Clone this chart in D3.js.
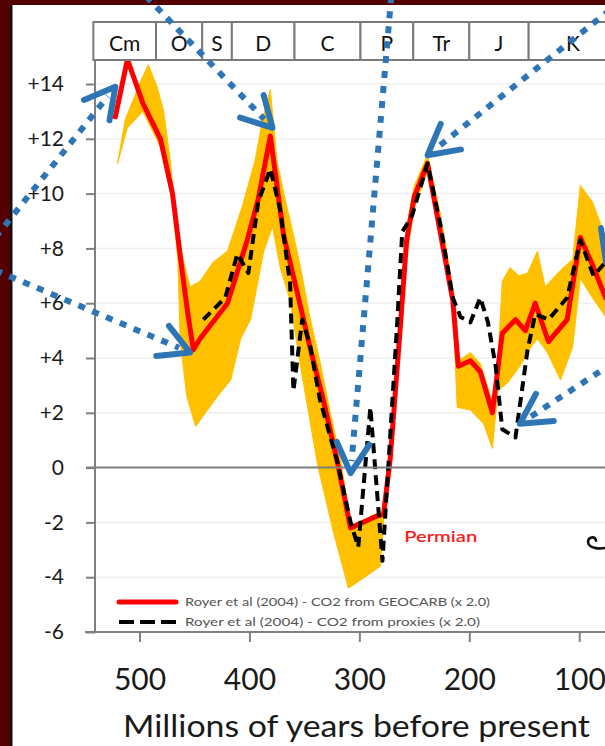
<!DOCTYPE html>
<html><head><meta charset="utf-8">
<script src="https://cdn.jsdelivr.net/npm/d3@7"></script>
<style>html,body{margin:0;padding:0;background:#550000;} svg{display:block;}</style>
</head><body>
<svg id="chart" width="605" height="746"></svg>
<script>
// ---------------- data (ages in Ma, values in CO2 forcing units) ----------------
const redAge = [522,511,497,481,470,461,456,451,445,420,402,392,381,369,356,345,333,320,308,286,278,272,263,257,250,238,226,215,210,199,190,179,170,158,149,140,128,111,99,88,76];
const redCO2 = [12.8,14.9,13.3,12.0,10.0,7.1,5.6,4.3,4.7,6.0,8.3,9.8,12.1,8.5,6.3,4.4,2.5,0.2,-2.2,-1.8,-1.7,0.3,5.0,8.3,9.9,11.1,8.5,6.1,3.7,3.9,3.5,2.0,4.9,5.4,5.0,6.0,4.6,5.4,8.4,7.4,6.2];

const proxyAge = [442,422,411,401,392,381,372,363,360,352,345,336,320,308,301,290,279,266,261,252,238,226,215,208,199,190,183,176,170,158,147,140,128,111,99,87,76];
const proxyCO2 = [5.4,6.2,7.8,7.1,9.7,10.9,9.4,6.7,2.8,5.4,4.5,2.5,0.2,-2.0,-2.9,2.2,-3.4,5.0,8.6,9.2,11.1,8.8,6.2,5.5,5.3,6.2,5.3,3.7,1.4,1.1,4.3,5.6,5.4,6.2,8.3,7.0,7.5];

const bandHiAge = [520,513,499,492,484,478,472,468,461,454,445,433,420,406,395,388,381,375,367,360,354,345,336,327,317,308,295,286,278,272,263,257,250,238,226,216,210,199,190,179,176,170,163,155,147,138,131,117,106,99,88,76];
const bandHiCO2 = [11.1,12.7,14.1,14.7,13.9,13.0,11.2,9.6,7.7,6.6,6.8,7.5,7.9,9.6,11.2,12.7,13.8,11.2,9.7,8.5,7.4,5.5,3.9,2.1,0.3,-2.1,-1.9,-1.7,-1.6,0.5,5.7,8.8,10.3,11.4,9.2,6.8,3.9,4.2,3.8,2.4,2.4,6.8,7.3,7.0,7.1,7.9,6.6,7.2,7.6,10.3,9.7,8.4];

const bandLoAge = [520,511,497,481,470,465,463,457,449,440,429,417,408,399,387,379,372,363,354,338,324,310,295,281,278,272,263,257,250,238,226,215,211,199,187,179,174,165,154,144,138,129,117,106,99,88,76];
const bandLoCO2 = [11.1,12.4,13.0,11.7,9.7,7.5,4.6,2.6,1.5,2.0,2.6,3.2,4.7,5.4,7.9,8.8,7.3,6.1,3.8,0.1,-2.3,-4.4,-4.0,-3.6,-1.9,-0.1,4.4,7.7,9.5,10.8,8.3,5.9,2.2,2.1,1.6,0.7,2.8,3.1,3.7,4.4,4.7,4.2,3.2,4.4,6.9,6.2,5.5];

const periodNames = ["Cm","O","S","D","C","P","Tr","J","K"];
const periodStart = [542,485,443,416,359,299,251,200,146];
const periodEnd   = [485,443,416,359,299,251,200,146,65.5];

const yTicks = [-6,-4,-2,0,2,4,6,8,10,12,14];
const xTicks = [500,400,300,200,100];

const legendLabels = ["Royer et al (2004) - CO2 from GEOCARB (x 2.0)", "Royer et al (2004) - CO2 from proxies (x 2.0)"];
const xTitle = "Millions of years before present";
const noteText = "Permian";

// annotation arrows (tail -> tip), in age / value units
const arrowTailAge = [631, 631, 494, 271, 72, 70];
const arrowTailCO2 = [8.4, 7.2, 17.2, 17.2, 16.7, 3.8];
const arrowTipAge  = [522, 454, 379, 308, 238, 154];
const arrowTipCO2  = [13.9, 4.2, 12.4, -0.2, 11.4, 1.6];

// ---------------- drawing ----------------
const W = 605, H = 746;
const svg = d3.select("#chart");
const FONT = "Lato, 'Open Sans', 'DejaVu Sans', sans-serif";

svg.append("rect").attr("width", W).attr("height", H).attr("fill", "#550000");
svg.append("rect").attr("x", 10).attr("y", 5).attr("width", W - 10).attr("height", H - 5).attr("fill", "#111");
svg.append("rect").attr("x", 12.5).attr("y", 5).attr("width", W - 12.5).attr("height", H - 5).attr("fill", "#ffffff");

const x = d3.scaleLinear().domain([540.5, 0]).range([95, 95 + 540.5 * 1.09925]);
const y = d3.scaleLinear().domain([-6, 14]).range([632, 84]);
const plotL = 95, plotT = 60, plotB = 632;

svg.append("defs").append("clipPath").attr("id", "plotclip")
  .append("rect").attr("x", plotL).attr("y", plotT).attr("width", W - plotL).attr("height", plotB - plotT);

// faint gridlines
svg.append("g").selectAll("line").data(yTicks.filter(d => d !== 0 && d !== -6)).join("line")
  .attr("x1", plotL).attr("x2", W).attr("y1", d => y(d)).attr("y2", d => y(d))
  .attr("stroke", "#f0f0f0").attr("stroke-width", 1.5);

const plot = svg.append("g").attr("clip-path", "url(#plotclip)");

// uncertainty band
const hiPts = bandHiAge.map((a, i) => [x(a), y(bandHiCO2[i])]);
const loPts = bandLoAge.map((a, i) => [x(a), y(bandLoCO2[i])]);
const bandPoly = hiPts.concat(loPts.slice().reverse());
plot.append("path").attr("d", d3.line()(bandPoly) + "Z").attr("fill", "#ffc000").attr("stroke", "#ffc000").attr("stroke-width", 1);

// zero line
svg.append("line").attr("x1", 86).attr("x2", W).attr("y1", y(0)).attr("y2", y(0))
  .attr("stroke", "#7f7f7f").attr("stroke-width", 2);

const line = d3.line().x(d => x(d[0])).y(d => y(d[1]));
plot.append("path").datum(redAge.map((a, i) => [a, redCO2[i]])).attr("d", line)
  .attr("fill", "none").attr("stroke", "#ff0000").attr("stroke-width", 5).attr("stroke-linejoin", "round").attr("stroke-linecap", "round");
plot.append("path").datum(proxyAge.map((a, i) => [a, proxyCO2[i]])).attr("d", line)
  .attr("fill", "none").attr("stroke", "#000").attr("stroke-width", 4).attr("stroke-dasharray", "10,6").attr("stroke-linejoin", "round");

// left axis
const yAxis = d3.axisLeft(y).tickValues(yTicks).tickSize(9).tickPadding(22)
  .tickFormat(d => d > 0 ? "+" + d : String(d));
const gy = svg.append("g").attr("transform", `translate(${plotL},0)`).call(yAxis);
gy.select(".domain").remove();
gy.selectAll(".tick line").attr("stroke", "#808080").attr("stroke-width", 2);
gy.selectAll(".tick text").attr("font-family", FONT).attr("font-size", 21).attr("fill", "#1a1a1a");
svg.append("line").attr("x1", plotL).attr("x2", plotL).attr("y1", plotT).attr("y2", plotB + 1)
  .attr("stroke", "#808080").attr("stroke-width", 2);

// bottom axis
const xAxis = d3.axisBottom(x).tickValues(xTicks).tickSize(10).tickPadding(27).tickFormat(d3.format("d"));
const gx = svg.append("g").attr("transform", `translate(0,${plotB})`).call(xAxis);
gx.select(".domain").remove();
gx.selectAll(".tick line").attr("stroke", "#808080").attr("stroke-width", 2);
gx.selectAll(".tick text").attr("font-family", FONT).attr("font-size", 30).attr("fill", "#1a1a1a");
svg.append("line").attr("x1", 85).attr("x2", W).attr("y1", plotB).attr("y2", plotB)
  .attr("stroke", "#808080").attr("stroke-width", 2);

svg.append("text").attr("x", 356.5).attr("y", 737).attr("text-anchor", "middle")
  .attr("font-family", FONT).attr("font-size", 31).attr("fill", "#1a1a1a")
  .attr("textLength", 467).attr("lengthAdjust", "spacingAndGlyphs").text(xTitle);

// period strip
const strip = svg.append("g");
strip.selectAll("rect").data(periodNames).join("rect")
  .attr("x", (d, i) => x(periodStart[i])).attr("y", 22)
  .attr("width", (d, i) => x(periodEnd[i]) - x(periodStart[i])).attr("height", 38)
  .attr("fill", "#fff").attr("stroke", "#7a7a7a").attr("stroke-width", 2);
strip.selectAll("text").data(periodNames).join("text")
  .attr("x", (d, i) => (x(periodStart[i]) + x(periodEnd[i])) / 2).attr("y", 42)
  .attr("text-anchor", "middle").attr("dominant-baseline", "central")
  .attr("font-family", FONT).attr("font-size", 21).attr("fill", "#111").text(d => d);

// legend
const lg = svg.append("g");
lg.append("line").attr("x1", 119).attr("x2", 176).attr("y1", 602).attr("y2", 602)
  .attr("stroke", "#ff0000").attr("stroke-width", 5).attr("stroke-linecap", "round");
lg.append("line").attr("x1", 119).attr("x2", 176).attr("y1", 622).attr("y2", 622)
  .attr("stroke", "#000").attr("stroke-width", 4).attr("stroke-dasharray", "15,6");
lg.append("text").attr("x", 185).attr("y", 606).attr("font-family", FONT).attr("font-size", 12)
  .attr("fill", "#555").attr("textLength", 305).attr("lengthAdjust", "spacingAndGlyphs").text(legendLabels[0]);
lg.append("text").attr("x", 185).attr("y", 626).attr("font-family", FONT).attr("font-size", 12)
  .attr("fill", "#555").attr("textLength", 295).attr("lengthAdjust", "spacingAndGlyphs").text(legendLabels[1]);

// Permian note
svg.append("text").attr("x", x(259.2)).attr("y", y(-2.48)).attr("dominant-baseline", "central")
  .attr("font-family", FONT).attr("font-size", 16).attr("font-weight", 600).attr("fill", "#ff1a1a")
  .attr("textLength", 73).attr("lengthAdjust", "spacingAndGlyphs").text(noteText);

// partial squiggle at right (cropped annotation)
const sx = x(85.6), sy = y(-2.74);
svg.append("path")
  .attr("d", `M${sx + 12},${sy + 5} C${sx + 3},${sy + 7} ${sx - 7},${sy + 5} ${sx - 7},${sy - 1} C${sx - 7},${sy - 6} ${sx},${sy - 7} ${sx + 1},${sy - 2}`)
  .attr("fill", "none").attr("stroke", "#111").attr("stroke-width", 2.5).attr("stroke-linecap", "round");

// blue annotation arrows
const BLUE = "#2e75b6";
const ag = svg.append("g");
arrowTipAge.forEach((ta, i) => {
  const tx = x(ta), ty = y(arrowTipCO2[i]);
  const sx0 = x(arrowTailAge[i]), sy0 = y(arrowTailCO2[i]);
  const ang = Math.atan2(sy0 - ty, sx0 - tx);
  const L = Math.hypot(sx0 - tx, sy0 - ty);
  const ex = tx + Math.cos(ang) * 12, ey = ty + Math.sin(ang) * 12;
  ag.append("line").attr("x1", sx0).attr("y1", sy0).attr("x2", ex).attr("y2", ey)
    .attr("stroke", BLUE).attr("stroke-width", 6).attr("stroke-dasharray", "7,8");
  const a1 = ang + 0.5, a2 = ang - 0.5, len = 34;
  ag.append("path")
    .attr("d", `M${tx + Math.cos(a1) * len},${ty + Math.sin(a1) * len} L${tx},${ty} L${tx + Math.cos(a2) * len},${ty + Math.sin(a2) * len}`)
    .attr("fill", "none").attr("stroke", BLUE).attr("stroke-width", 6)
    .attr("stroke-linecap", "round").attr("stroke-linejoin", "round");
});
// cropped arrowhead arm at the right edge
ag.append("line").attr("x1", x(80.2)).attr("y1", y(8.74)).attr("x2", x(75.6)).attr("y2", y(7.5))
  .attr("stroke", BLUE).attr("stroke-width", 6).attr("stroke-linecap", "round");
</script>
</body></html>
